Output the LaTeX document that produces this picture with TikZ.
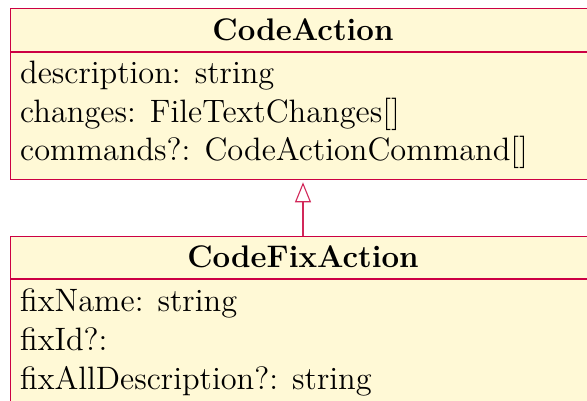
\documentclass[tikz,border=0pt]{standalone}
\usetikzlibrary{arrows.meta}
\definecolor{umlfill}{RGB}{255,249,214}
\definecolor{umlline}{RGB}{204,0,68}
\definecolor{umlarrow}{RGB}{210,40,90}
\newcommand{\bodytext}[1]{\scalebox{2.70}{\fontsize{12}{14}\selectfont #1}}
\newcommand{\headtext}[1]{\scalebox{2.60}{\fontsize{12}{14}\selectfont\bfseries #1}}
\tikzset{
  classbox/.style={draw=umlline, fill=umlfill, line width=1.3pt, anchor=north west, inner sep=0pt},
  classtitle/.style={anchor=base, inner sep=0pt},
  member/.style={anchor=base west, inner sep=0pt},
  divider/.style={draw=umlline, line width=1.3pt},
  inherits/.style={draw=umlarrow, line width=1.1pt, -{Triangle[open, length=20pt, width=16pt, fill=white]}}
}
\begin{document}
\begin{tikzpicture}[x=1pt,y=-1pt]
\useasboundingbox (0,0) rectangle (587,401);
\clip (0,0) rectangle (587,401);
% base class
\node[classbox, minimum width=587pt, minimum height=171pt] (ca) at (10,8) {};
\draw[divider] (10,52) -- (597,52);
\node[classtitle] (catitle) at (303,41) {\headtext{CodeAction}};
\node[member] (m1) at (20,84) {\bodytext{description: string}};
\node[member] (m2) at (20,122.5) {\bodytext{changes: FileTextChanges[]}};
\node[member] (m3) at (20,161) {\bodytext{commands?: CodeActionCommand[]}};
% derived class
\node[classbox, minimum width=587pt, minimum height=200pt] (cfa) at (10,236) {};
\draw[divider] (10,279) -- (597,279);
\node[classtitle] (cfatitle) at (303,268) {\headtext{CodeFixAction}};
\node[member] (f1) at (20,311.5) {\bodytext{fixName: string}};
\node[member] (f2) at (20,350.5) {\bodytext{fixId?:}};
\node[member] (f3) at (20,389.5) {\bodytext{fixAllDescription?: string}};
% generalisation
\draw[inherits] (cfa.north -| catitle) -- ([yshift=-2pt]ca.south -| catitle);
\end{tikzpicture}
\end{document}
